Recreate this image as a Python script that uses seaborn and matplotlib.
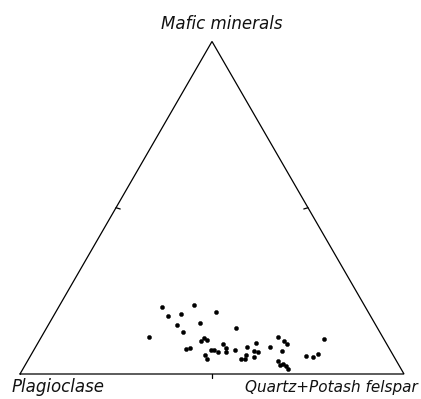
import numpy as np
import pandas as pd
import matplotlib
matplotlib.use("Agg")
import matplotlib.pyplot as plt
import seaborn as sns

# Modal composition of the rocks (percent): quartz + potash felspar, mafic minerals;
# plagioclase makes up the remainder.
quartz_kfs = [27.0, 35.0, 29.7, 32.9, 41.8, 33.6, 39.3, 36.1, 49.4, 28.2,
              42.4, 42.2, 43.6, 39.5, 40.5, 45.2, 46.5, 46.1, 46.8, 48.3,
              48.3, 49.9, 50.3, 52.4, 55.2, 56.8, 57.4, 58.8, 56.0, 55.4,
              56.3, 58.5, 61.0, 61.7, 63.7, 65.1, 64.7, 65.3, 66.4, 67.1,
              68.1, 69.0, 73.9, 71.7, 73.9, 74.7]
mafic = [20.2, 20.8, 17.5, 18.1, 18.6, 14.6, 15.3, 12.6, 13.7, 11.0,
         10.9, 10.0, 10.3, 7.4, 7.8, 5.8, 4.6, 7.1, 7.3, 6.6,
         8.9, 7.7, 6.7, 7.2, 8.0, 9.2, 7.0, 6.5, 5.7, 4.5,
         4.5, 5.0, 8.0, 11.0, 10.0, 8.9, 6.9, 4.0, 2.7, 2.9,
         2.4, 1.5, 10.5, 5.5, 5.0, 6.0]

corner_labels = ["Plagioclase", "Quartz+Potash felspar", "Mafic minerals"]

H = np.sqrt(3) / 2


def project(q, m):
    """Plagioclase at (0,0), quartz+potash felspar at (1,0), mafic apex at top."""
    q = np.asarray(q) / 100.0
    m = np.asarray(m) / 100.0
    return q + m / 2, m * H


x, y = project(quartz_kfs, mafic)
df = pd.DataFrame({"x": x, "y": y})

sns.set_style("white")
fig = plt.figure(figsize=(4.21, 3.99), dpi=100)
ax = fig.add_axes([0, 0, 1, 1])

# triangle outline
ax.plot([0, 1, 0.5, 0], [0, 0, H, 0], color="black", lw=0.9,
        solid_joinstyle="miter")

# mid-side ticks
t = 0.011
ax.plot([0.25, 0.25 + t], [H / 2, H / 2 - t * 0.3], color="black", lw=0.9)
ax.plot([0.75, 0.75 - t], [H / 2, H / 2 - t * 0.3], color="black", lw=0.9)
ax.plot([0.5, 0.5], [0, -t], color="black", lw=0.9)

sns.scatterplot(data=df, x="x", y="y", ax=ax, color="black", s=9,
                edgecolor="black", linewidth=0.3, legend=False)

font = dict(family="DejaVu Sans", style="italic", color="#111111")
ax.text(0.525, H + 0.045, corner_labels[2], ha="center", va="center",
        fontsize=12, **font)
ax.text(-0.021, -0.034, corner_labels[0], ha="left", va="center",
        fontsize=12, **font)
ax.text(1.035, -0.034, corner_labels[1], ha="right", va="center",
        fontsize=11, **font)

ax.set_xlim(-20 / 384, 401 / 384)
ax.set_ylim(-25 / 384, 374 / 384)
ax.set_axis_off()

fig.savefig("out.png", dpi=100, facecolor="white")
